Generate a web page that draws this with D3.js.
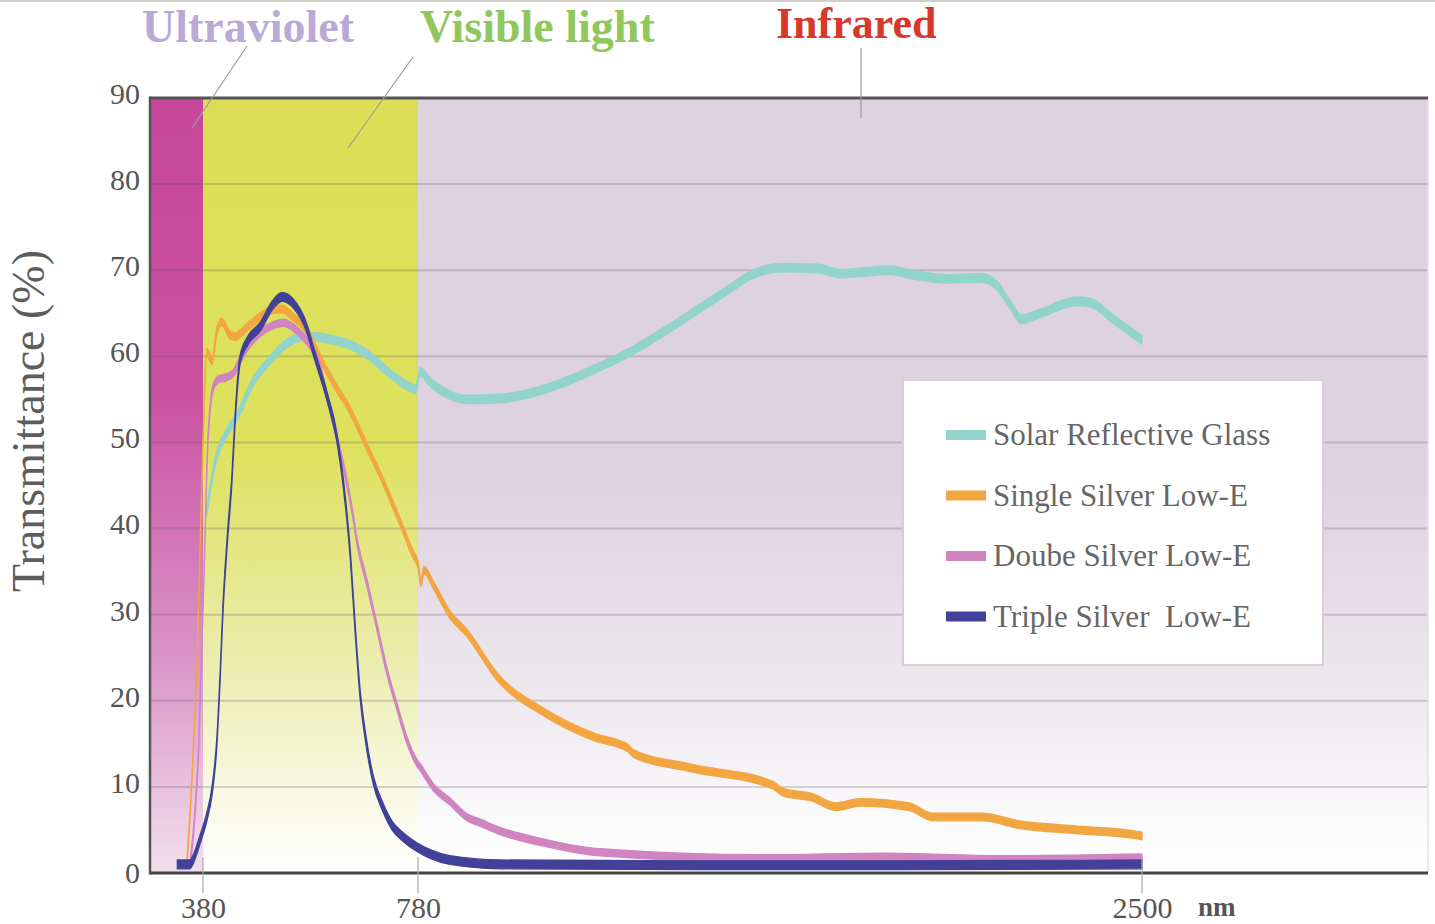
<!DOCTYPE html>
<html><head><meta charset="utf-8">
<script src="https://cdn.jsdelivr.net/npm/d3@7"></script>
<style>
html,body{margin:0;padding:0;background:#fff;}
svg{display:block;}
text{font-family:"Liberation Serif","Times New Roman",serif;}
</style></head><body>
<svg id="chart" width="1435" height="924"></svg>
<script>
// ---------- DATA ----------
const xBreaks = [281, 380, 780, 2500, 3180];   // wavelength (nm) breakpoints of the axis
const xTicks = [380, 780, 2500];
const yTicks = [0, 10, 20, 30, 40, 50, 60, 70, 80, 90];
const regionNames = ["Ultraviolet", "Visible light", "Infrared"];
const regionBounds = [[281, 380], [380, 780], [780, 3180]];
const seriesNames = ["Solar Reflective Glass", "Single Silver Low-E", "Doube Silver Low-E", "Triple Silver  Low-E"];
const seriesColors = ["#92d4cc", "#f2a641", "#d084c0", "#41419a"];

const wlSolar = [387,397,408,423,443,473,505,536,566,598,629,659,691,722,752,776,785,809,844,896,975,1094,1212,1291,1372,1450,1528,1569,1647,1730,1785,1842,1899,1954,2032,2122,2156,2187,2213,2258,2346,2381,2424,2460,2500];
const tSolar = [42,46,49,51,53,57,59.6,61.5,62.3,62.2,61.8,61.2,60,58.3,56.9,56.2,58.2,57,55.8,55,55.1,56.4,58.8,60.7,63.1,65.6,68.1,69.4,70.3,70.2,69.6,69.8,70,69.5,69,69.1,68.2,66,64.3,65,66.4,66.2,64.6,63.3,61.9];

const wlSingle = [350,369,380,387,397,406,415,430,440,462,486,510,527,547,573,598,622,653,685,715,747,771,780,787,794,816,856,896,968,1082,1198,1279,1291,1429,1623,1647,1716,1773,1830,1947,2004,2120,2210,2351,2488,2500];
const tSingle = [1,25,50,60.5,59.5,63,64,62.5,62.3,63.4,64.6,65.4,65.5,64.6,63,59.8,57,53.8,49.5,45.5,40.7,37,35.8,33.7,35.2,33.5,30,27.9,22.8,18.6,15.8,14.5,13.9,12.2,10.2,9.4,8.8,7.7,8.2,7.7,6.5,6.5,5.6,5.0,4.4,4.3];

const wlDouble = [356,372,382,389,399,408,425,436,449,462,486,510,529,547,566,585,597,611,629,644,659,666,685,704,722,741,759,778,785,816,856,896,930,968,1082,1212,1602,1890,2163,2500];
const tDouble = [1,15,35,50,56.4,57.3,57.6,58,59.6,61,62.7,63.6,63.9,63.4,62.3,60.7,59,55.2,50.6,46.5,41.5,38.7,33.7,28.5,23.5,19.3,15.5,12.8,12.3,10,8.3,6.5,5.8,5.0,3.5,2.4,1.7,1.9,1.6,1.8];

const wlTriple = [332,356,361,374,387,397,406,412,417,425,434,440,449,464,486,510,527,547,574,585,611,629,641,654,663,672,683,696,715,732,752,778,809,856,975,1450,1925,2500];
const tTriple = [1,1,1.5,3.8,6.5,9.6,15.4,23,30.5,38.5,46,53,59.6,61.9,63.4,66,66.9,66.2,63.1,60.7,55.3,50.6,45.3,37,28.5,21,15.5,11,7.6,5.5,4.2,3,2.2,1.5,1.0,0.9,0.9,1.0];

// ---------- CHART ----------
const svg = d3.select('#chart');
const L = 150, R = 1428, T = 98, B = 873;
const x = d3.scaleLinear().domain(xBreaks).range([L, 203, 418, 1142, R]);
const y = d3.scaleLinear().domain([0, 90]).range([B, T]);

const defs = svg.append('defs');
function grad(id, stops) {
  const g = defs.append('linearGradient').attr('id', id)
    .attr('x1', 0).attr('y1', 0).attr('x2', 0).attr('y2', 1);
  stops.forEach(s => g.append('stop').attr('offset', s[0]).attr('stop-color', s[1]));
}
grad('gUV', [[0, '#c8479c'], [0.38, '#ca51a0'], [0.72, '#da93c8'], [1, '#f2dfec']]);
grad('gVis', [[0, '#dcdf55'], [0.45, '#dee15d'], [0.72, '#eaedab'], [0.9, '#f8f9e4'], [1, '#ffffff']]);
grad('gIR', [[0, '#ddd2de'], [0.5, '#ddd3de'], [0.78, '#eee9ef'], [0.93, '#fbfafb'], [1, '#ffffff']]);
const fills = ['url(#gUV)', 'url(#gVis)', 'url(#gIR)'];

// image top border
svg.append('line').attr('x1', 0).attr('x2', 1435).attr('y1', 1).attr('y2', 1)
  .attr('stroke', '#cfcfc8').attr('stroke-width', 2);

// region bands
svg.selectAll('rect.band').data(regionBounds).join('rect').attr('class', 'band')
  .attr('x', d => x(d[0])).attr('width', d => x(d[1]) - x(d[0]))
  .attr('y', T).attr('height', B - T)
  .attr('fill', (d, i) => fills[i]);

// gridlines
svg.selectAll('line.grid').data(yTicks.filter(v => v > 0 && v < 90)).join('line').attr('class', 'grid')
  .attr('x1', L).attr('x2', R).attr('y1', d => y(d)).attr('y2', d => y(d))
  .attr('stroke', 'rgba(90,80,90,0.24)').attr('stroke-width', 2);

// right edge
svg.append('line').attr('x1', R).attr('x2', R).attr('y1', T).attr('y2', B)
  .attr('stroke', '#e3e0e3').attr('stroke-width', 1.5);

// series
const series = [
  {wl: wlSolar, t: tSolar, h: 4.3},
  {wl: wlSingle, t: tSingle, h: 3.8},
  {wl: wlDouble, t: tDouble, h: 3.6},
  {wl: wlTriple, t: tTriple, h: 4.4}
];
series.forEach((s, i) => {
  const pts = s.wl.map((w, k) => [w, s.t[k]]);
  const area = d3.area().x(d => x(d[0]))
    .y0(d => y(d[1]) - s.h).y1(d => y(d[1]) + s.h)
    .curve(d3.curveMonotoneX);
  svg.append('path').datum(pts).attr('d', area)
    .attr('fill', seriesColors[i]).attr('stroke', seriesColors[i])
    .attr('stroke-width', 1.3).attr('stroke-linejoin', 'round');
});

// axes lines
svg.append('line').attr('x1', L).attr('x2', R).attr('y1', T).attr('y2', T)
  .attr('stroke', '#555').attr('stroke-width', 3);
svg.append('line').attr('x1', L).attr('x2', R).attr('y1', B).attr('y2', B)
  .attr('stroke', '#444').attr('stroke-width', 3);
svg.append('line').attr('x1', L).attr('x2', L).attr('y1', T - 1.5).attr('y2', B + 1.5)
  .attr('stroke', '#555').attr('stroke-width', 2.5);

// x tick marks
svg.selectAll('line.xt').data(xTicks).join('line').attr('class', 'xt')
  .attr('x1', d => x(d)).attr('x2', d => x(d)).attr('y1', B - 16).attr('y2', B + 20)
  .attr('stroke', '#aaa').attr('stroke-width', 1.2);

// y axis labels
const gy = svg.append('g').attr('transform', `translate(${L},0)`)
  .call(d3.axisLeft(y).tickValues(yTicks).tickSize(0).tickPadding(10).tickFormat(d3.format('d')));
gy.select('.domain').remove();
gy.selectAll('text').attr('font-family', '"Liberation Serif", serif').attr('font-size', 30)
  .attr('fill', '#555').attr('dy', d => d === 0 ? '0.32em' : '0.18em');

// x axis labels
const gx = svg.append('g').attr('transform', `translate(0,${B})`)
  .call(d3.axisBottom(x).tickValues(xTicks).tickSize(0).tickPadding(24).tickFormat(d3.format('d')));
gx.select('.domain').remove();
gx.selectAll('text').attr('font-family', '"Liberation Serif", serif').attr('font-size', 30).attr('fill', '#555');
svg.append('text').attr('x', x(2500) + 56).attr('y', 916).attr('font-size', 27)
  .attr('font-weight', 'bold').attr('fill', '#555').text('nm');

// y title
svg.append('text').attr('transform', 'translate(44,421) rotate(-90)')
  .attr('text-anchor', 'middle').attr('font-size', 46).attr('fill', '#5d5d5d')
  .text('Transmittance (%)');

// region titles + leader lines
const titleColors = ['#b9a9d6', '#8fc75c', '#d8372c'];
const titlePos = [[142, 42], [420, 42], [776, 38]];
regionNames.forEach((n, i) => {
  svg.append('text').attr('x', titlePos[i][0]).attr('y', titlePos[i][1])
    .attr('font-size', i === 2 ? 44 : 46).attr('font-weight', 'bold').attr('fill', titleColors[i]).text(n);
});
const leaders = [[247, 46, 192, 128], [413, 57, 348, 148], [861, 48, 861, 118]];
svg.selectAll('line.lead').data(leaders).join('line').attr('class', 'lead')
  .attr('x1', d => d[0]).attr('y1', d => d[1]).attr('x2', d => d[2]).attr('y2', d => d[3])
  .attr('stroke', '#9a9a9a').attr('stroke-width', 1.2);

// legend
const lg = svg.append('g');
lg.append('rect').attr('x', 903).attr('y', 380).attr('width', 420).attr('height', 285)
  .attr('fill', '#fff').attr('stroke', '#d4d0d4').attr('stroke-width', 2);
seriesNames.forEach((n, i) => {
  const cy = 435 + i * 60.5;
  lg.append('rect').attr('x', 946).attr('y', cy - 5).attr('width', 40).attr('height', 10)
    .attr('fill', seriesColors[i]);
  lg.append('text').attr('x', 993).attr('y', cy + 10).attr('font-size', 31)
    .attr('fill', '#666').attr('xml:space', 'preserve').style('white-space', 'pre').text(n);
});
</script>
</body></html>
